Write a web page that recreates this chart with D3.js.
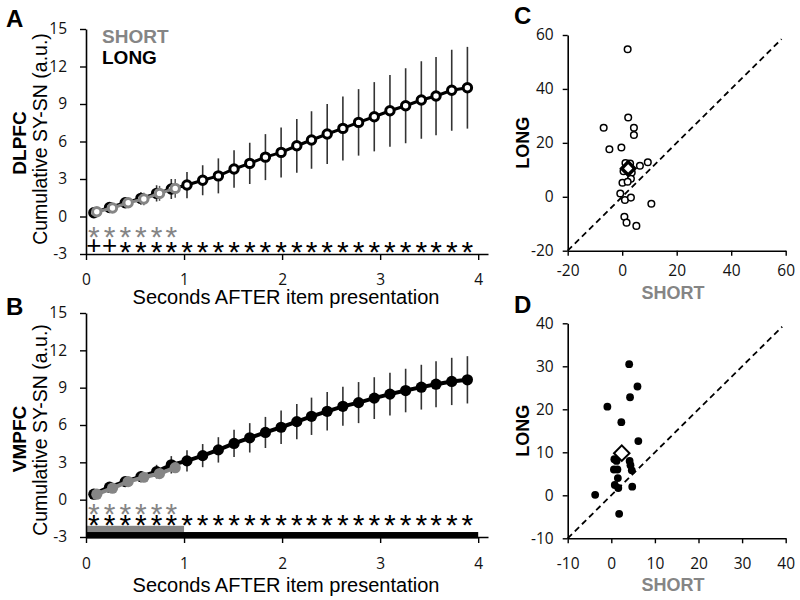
<!DOCTYPE html>
<html><head><meta charset="utf-8">
<script src="https://cdn.jsdelivr.net/npm/d3@7"></script>
<style>body{margin:0;background:#fff}</style>
</head><body><svg id="c" width="800" height="600"></svg>
<script>
// ---------- DATA ----------
const timesLong = [0.08,0.24,0.40,0.56,0.72,0.87,1.03,1.19,1.35,1.51,1.67,1.83,1.99,2.15,2.30,2.46,2.62,2.78,2.94,3.10,3.26,3.42,3.57,3.73,3.89];
const timesShort = [0.11,0.27,0.43,0.59,0.75,0.91];
const timeTicks = [0,1,2,3,4];
const cumTicks = [-3,0,3,6,9,12,15];

const dlpfcLong = [0.30,0.72,1.10,1.45,1.85,2.20,2.52,2.90,3.25,3.80,4.25,4.75,5.13,5.66,6.12,6.60,7.05,7.53,7.98,8.46,8.86,9.32,9.64,10.10,10.30];
const dlpfcLongErr = [0.20,0.30,0.40,0.50,0.65,0.80,1.05,1.20,1.40,1.50,1.65,1.84,2.00,2.15,2.30,2.40,2.56,2.66,2.77,2.87,3.00,3.10,3.13,3.24,3.27];
const dlpfcShort = [0.38,0.68,1.10,1.40,1.85,2.25];
const dlpfcShortErr = [0.20,0.30,0.40,0.50,0.60,0.75];
const dlpfcSigShort = ["*","*","*","*","*","*"];
const dlpfcSigLong = ["+","+","*","*","*","*","*","*","*","*","*","*","*","*","*","*","*","*","*","*","*","*","*","*","*"];

const vmpfcLong = [0.44,1.00,1.45,1.85,2.25,2.80,3.12,3.54,4.00,4.52,4.97,5.40,5.82,6.27,6.70,7.10,7.50,7.80,8.16,8.48,8.77,9.04,9.28,9.50,9.63];
const vmpfcLongErr = [0.15,0.25,0.35,0.45,0.55,0.70,0.85,0.93,1.02,1.10,1.18,1.25,1.35,1.42,1.50,1.55,1.57,1.65,1.68,1.72,1.75,1.80,1.85,1.90,1.90];
const vmpfcShort = [0.44,0.92,1.45,1.80,2.10,2.57];
const vmpfcShortErr = [0.15,0.20,0.25,0.30,0.35,0.40];
const vmpfcSigShort = ["*","*","*","*","*","*"];
const vmpfcSigLong = ["*","*","*","*","*","*","*","*","*","*","*","*","*","*","*","*","*","*","*","*","*","*","*","*","*"];
const vmpfcWindowShort = [0,1];
const vmpfcWindowLong = [0,4];

const cTicks = [-20,0,20,40,60];
const cShort = [2.0,2.2,-6.8,4.3,4.3,-4.7,-0.3,9.4,6.5,1.2,2.9,0.5,3.5,3.2,0.1,2.0,-0.7,1.0,3.2,10.7,0.8,1.6,5.2];
const cLong  = [54.7,29.4,25.6,25.6,22.9,17.6,18.3,12.8,11.5,12.5,12.3,9.5,9.0,6.7,5.2,5.6,1.2,-1.2,-0.3,-2.6,-7.4,-9.6,-10.8];
const cMean = [2.2,10.5];

const dTicks = [-10,0,10,20,30,40];
const dShort = [4.1,6.0,4.3,-0.9,2.3,6.2,0.7,1.2,4.2,4.4,4.7,0.6,1.4,1.5,0.8,1.6,4.8,-3.7,1.8];
const dLong  = [30.5,25.3,22.8,20.6,17.0,12.6,8.4,8.0,8.0,7.0,5.8,6.0,6.0,4.0,2.4,1.7,2.0,0.1,-4.3];
const dMean = [2.4,9.8];

// ---------- DRAW ----------
const svg = d3.select("#c");
const GRAY = "#858585";
const TXT = "'Liberation Sans', Arial, sans-serif";
const NUM = "'Open Sans', 'Noto Sans', sans-serif";

function styleAxis(sel){
  sel.select(".domain").attr("stroke","#000").attr("stroke-width",1.6);
  sel.selectAll(".tick line").attr("stroke","#000").attr("stroke-width",1.4);
  sel.selectAll(".tick text").attr("font-family",NUM).attr("font-size",15.5).attr("fill","#111");
}

// significance glyph metrics
const STAR_FS = 30, PLUS_FS = 26;
const markFs = s => s==="*" ? STAR_FS : PLUS_FS;
const markOff = s => s==="*" ? 0.58*STAR_FS : 0.35*PLUS_FS;

function linePanel(o){
  const x = d3.scaleLinear().domain([0,4.1]).range([86,488]);
  const y = d3.scaleLinear().domain([-3,15]).range([o.yBot,o.yTop]);
  const g = svg.append("g");

  if(o.winShort){
    g.append("rect").attr("x",x(o.winShort[0])).attr("width",x(o.winShort[1])-x(o.winShort[0]))
      .attr("y",y(-2.1)).attr("height",y(-2.6)-y(-2.1)).attr("fill",GRAY);
    g.append("rect").attr("x",x(o.winLong[0])).attr("width",x(o.winLong[1])-x(o.winLong[0]))
      .attr("y",y(-2.6)).attr("height",y(-3.12)-y(-2.6)).attr("fill","#000");
  }

  const ax = g.append("g").attr("transform",`translate(0,${o.yBot})`)
    .call(d3.axisBottom(x).tickValues(timeTicks).tickFormat(d=>String(d)).tickSize(6).tickSizeOuter(0).tickPadding(o.xPad));
  styleAxis(ax);
  const ay = g.append("g").attr("transform",`translate(86,0)`)
    .call(d3.axisLeft(y).tickValues(cumTicks).tickFormat(d=>String(d)).tickSize(6).tickSizeOuter(0).tickPadding(13));
  styleAxis(ay);

  // long series
  g.append("g").selectAll("line").data(o.long).join("line")
    .attr("x1",(d,i)=>x(timesLong[i])).attr("x2",(d,i)=>x(timesLong[i]))
    .attr("y1",(d,i)=>y(d-o.longErr[i])).attr("y2",(d,i)=>y(d+o.longErr[i]))
    .attr("stroke","#333").attr("stroke-width",1.6);
  g.append("path").datum(o.long)
    .attr("d",d3.line().x((d,i)=>x(timesLong[i])).y(d=>y(d)))
    .attr("fill","none").attr("stroke","#000").attr("stroke-width",o.filled?4:3);
  g.append("g").selectAll("circle").data(o.long).join("circle")
    .attr("cx",(d,i)=>x(timesLong[i])).attr("cy",d=>y(d))
    .attr("r",o.filled?5.6:4.2)
    .attr("fill",o.filled?"#000":"#fff").attr("stroke","#000").attr("stroke-width",o.filled?0:3);

  // short series
  g.append("g").selectAll("line").data(o.short).join("line")
    .attr("x1",(d,i)=>x(timesShort[i])).attr("x2",(d,i)=>x(timesShort[i]))
    .attr("y1",(d,i)=>y(d-o.shortErr[i])).attr("y2",(d,i)=>y(d+o.shortErr[i]))
    .attr("stroke","#555").attr("stroke-width",1.5);
  g.append("path").datum(o.short)
    .attr("d",d3.line().x((d,i)=>x(timesShort[i])).y(d=>y(d)))
    .attr("fill","none").attr("stroke",GRAY).attr("stroke-width",o.filled?4:3);
  g.append("g").selectAll("circle").data(o.short).join("circle")
    .attr("cx",(d,i)=>x(timesShort[i])).attr("cy",d=>y(d))
    .attr("r",o.filled?5.6:4.2)
    .attr("fill",o.filled?GRAY:"#fff").attr("stroke",GRAY).attr("stroke-width",o.filled?0:3);

  // significance marks (text)
  g.append("g").selectAll("text").data(o.sigShort).join("text")
    .attr("x",(d,i)=>x(timesLong[i])).attr("y",d=>o.starShortY+markOff(d))
    .attr("text-anchor","middle").attr("font-family",TXT).attr("font-size",d=>markFs(d)).attr("fill",GRAY).text(d=>d);
  g.append("g").selectAll("text").data(o.sigLong).join("text")
    .attr("x",(d,i)=>x(timesLong[i])).attr("y",d=>o.starLongY+markOff(d))
    .attr("text-anchor","middle").attr("font-family",TXT).attr("font-size",d=>markFs(d)).attr("fill","#000").text(d=>d);

  // titles
  g.append("text").attr("x",286).attr("y",o.xTitleY).attr("text-anchor","middle")
    .attr("font-family",TXT).attr("font-size",20).text("Seconds AFTER item presentation");
  g.append("text").attr("transform",`translate(47,${o.yTitleC}) rotate(-90)`).attr("text-anchor","middle")
    .attr("font-family",TXT).attr("font-size",19.5).text("Cumulative SY-SN (a.u.)");
  g.append("text").attr("transform",`translate(26,${o.regionC}) rotate(-90)`).attr("text-anchor","middle")
    .attr("font-family",TXT).attr("font-size",19).attr("font-weight","bold").text(o.region);
  g.append("text").attr("x",6).attr("y",o.letterY).attr("font-family",TXT).attr("font-size",24)
    .attr("font-weight","bold").text(o.letter);
}

linePanel({yTop:29,yBot:254,long:dlpfcLong,longErr:dlpfcLongErr,short:dlpfcShort,shortErr:dlpfcShortErr,
  filled:false,sigShort:dlpfcSigShort,sigLong:dlpfcSigLong,starShortY:230,starLongY:245,xPad:14,
  xTitleY:304,yTitleC:139,region:"DLPFC",regionC:143,letter:"A",letterY:27});
linePanel({yTop:313,yBot:537,long:vmpfcLong,longErr:vmpfcLongErr,short:vmpfcShort,shortErr:vmpfcShortErr,
  filled:true,sigShort:vmpfcSigShort,sigLong:vmpfcSigLong,starShortY:507,starLongY:518,xPad:15,
  winShort:vmpfcWindowShort,winLong:vmpfcWindowLong,
  xTitleY:592,yTitleC:430,region:"VMPFC",regionC:439,letter:"B",letterY:315});

// legend
svg.append("text").attr("x",102).attr("y",43).attr("font-family",TXT).attr("font-size",19)
  .attr("font-weight","bold").attr("fill",GRAY).text("SHORT");
svg.append("text").attr("x",102).attr("y",64).attr("font-family",TXT).attr("font-size",19)
  .attr("font-weight","bold").attr("fill","#000").text("LONG");

function scatterPanel(o){
  const x = d3.scaleLinear().domain(o.dom).range([567.7,785.7]);
  const y = d3.scaleLinear().domain(o.dom).range([o.yBot,o.yTop]);
  const g = svg.append("g");
  const ax = g.append("g").attr("transform",`translate(0,${o.yBot})`)
    .call(d3.axisBottom(x).tickValues(o.ticks).tickFormat(d=>String(d)).tickSize(5).tickSizeOuter(0).tickPadding(o.xPad));
  styleAxis(ax);
  const ay = g.append("g").attr("transform",`translate(567.7,0)`)
    .call(d3.axisLeft(y).tickValues(o.ticks).tickFormat(d=>String(d)).tickSize(5).tickSizeOuter(0).tickPadding(9));
  styleAxis(ay);
  g.append("line").attr("x1",x(o.dom[0])).attr("y1",y(o.dom[0])).attr("x2",x(o.diagEnd)).attr("y2",y(o.diagEnd))
    .attr("stroke","#000").attr("stroke-width",1.8).attr("stroke-dasharray","6,4");
  g.append("g").selectAll("circle").data(o.short).join("circle")
    .attr("cx",d=>x(d)).attr("cy",(d,i)=>y(o.long[i])).attr("r",o.filled?3.9:3.3)
    .attr("fill",o.filled?"#000":"#fff").attr("stroke","#000").attr("stroke-width",o.filled?0:1.5);
  g.append("path").attr("d",d3.symbol().type(d3.symbolSquare).size(o.dSize)())
    .attr("transform",`translate(${x(o.mean[0])},${y(o.mean[1])}) rotate(45)`)
    .attr("fill","#fff").attr("stroke","#000").attr("stroke-width",o.dStroke);
  g.append("text").attr("x",673).attr("y",o.sTitleY).attr("text-anchor","middle").attr("font-family",TXT)
    .attr("font-size",18).attr("font-weight","bold").attr("fill",GRAY).text("SHORT");
  g.append("text").attr("transform",`translate(529,${(o.yTop+o.yBot)/2}) rotate(-90)`).attr("text-anchor","middle")
    .attr("font-family",TXT).attr("font-size",18).attr("font-weight","bold").text("LONG");
  g.append("text").attr("x",514).attr("y",o.letterY).attr("font-family",TXT).attr("font-size",24)
    .attr("font-weight","bold").text(o.letter);
}

scatterPanel({dom:[-20,60],ticks:cTicks,yTop:35,yBot:250.7,short:cShort,long:cLong,mean:cMean,filled:false,
  diagEnd:58.5,dSize:85,dStroke:3.4,xPad:9,sTitleY:299,letter:"C",letterY:24});
scatterPanel({dom:[-10,40],ticks:dTicks,yTop:323.3,yBot:538.3,short:dShort,long:dLong,mean:dMean,filled:true,
  diagEnd:39.2,dSize:120,dStroke:2,xPad:15,sTitleY:591,letter:"D",letterY:313});
</script></body></html>
